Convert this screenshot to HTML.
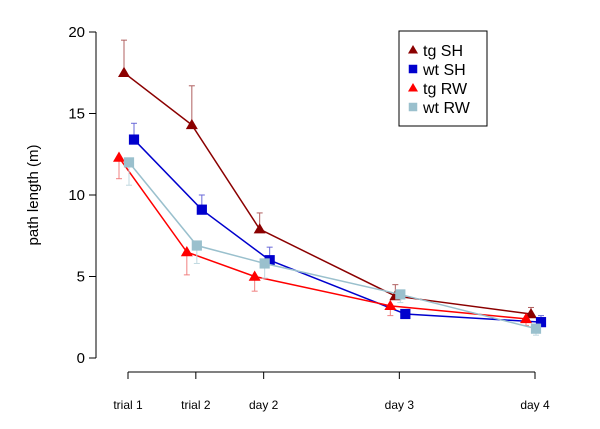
<!DOCTYPE html>
<html><head><meta charset="utf-8"><style>
body{margin:0;background:#fff}
svg{display:block;font-family:"Liberation Sans",Arial,sans-serif}
</style></head><body>
<svg id="chart" width="600" height="429">
<g id="axes"></g><g id="series"></g>
<g>
<rect x="399" y="31" width="88" height="95" fill="#fff" stroke="#000" stroke-width="1"/>
<g id="legend"></g>
</g>
</svg>
<script>
const categories=["trial 1","trial 2","day 2","day 3","day 4"];
const catPos=[0,1,2,4,6];
const yTicks=[0,5,10,15,20];
const seriesNames=["tg SH","wt SH","tg RW","wt RW"];
const tgSH=[17.5,14.3,7.9,3.8,2.7];
const wtSH=[13.4,9.1,6.0,2.7,2.2];
const tgRW=[12.3,6.5,5.0,3.2,2.4];
const wtRW=[12.0,6.9,5.8,3.9,1.8];
const tgSHerr=[2.0,2.4,1.0,0.7,0.4];
const wtSHerr=[1.0,0.9,0.8,0.2,0.4];
const tgRWerr=[1.3,1.4,0.9,0.6,0.4];
const wtRWerr=[1.4,1.1,0.9,0.5,0.4];
const NS="http://www.w3.org/2000/svg";
const xS=p=>128+p*(535-128)/6;
const yS=v=>358-v*(358-32)/20;
function el(t,a,parent){const e=document.createElementNS(NS,t);for(const k in a)e.setAttribute(k,a[k]);parent.appendChild(e);return e;}
const ax=document.getElementById('axes');
let e=el('line',{x1:96,x2:96,y1:yS(0),y2:yS(20),stroke:'#000'},ax);


yTicks.forEach(t=>{el('line',{x1:89,x2:96,y1:yS(t),y2:yS(t),stroke:'#000'},ax);
 const tx=el('text',{x:85,y:yS(t)+5,'text-anchor':'end','font-size':15},ax);tx.textContent=t;
 
 });
e=el('text',{x:38,y:195,'text-anchor':'middle','font-size':15,transform:'rotate(-90 38 195)'},ax);e.textContent='path length (m)';


e=el('line',{x1:xS(0),x2:xS(6),y1:372,y2:372,stroke:'#000'},ax);


categories.forEach((c,i)=>{const x=xS(catPos[i]);el('line',{x1:x,x2:x,y1:372,y2:379,stroke:'#000'},ax);
 const tx=el('text',{x:x,y:409,'text-anchor':'middle','font-size':12},ax);tx.textContent=c;
 
 });
const sg=document.getElementById('series');
const defs=[
 {d:tgSH,err:tgSHerr,c:'#8b0000',ec:'#b06060',off:-4,shape:'tri',up:true,name:'tg-sh'},
 {d:wtSH,err:wtSHerr,c:'#0000cd',ec:'#6a6ad8',off:6,shape:'sq',up:true,name:'wt-sh'},
 {d:tgRW,err:tgRWerr,c:'#ff0000',ec:'#f08080',off:-9,shape:'tri',up:false,name:'tg-rw'},
 {d:wtRW,err:wtRWerr,c:'#9ac0cd',ec:'#c0d8e0',off:1,shape:'sq',up:false,name:'wt-rw'}];
function marker(shape,x,y,c,parent,r){
 r=r||6;
 if(shape==='tri')return el('polygon',{points:`${x},${y-r} ${x-r},${y+r*0.7} ${x+r},${y+r*0.7}`,fill:c},parent);
 const h=r*0.85;
 return el('rect',{x:x-h,y:y-h,width:2*h,height:2*h,fill:c},parent);}
defs.forEach(s=>{
 const g=el('g',{},sg);
 
 
 s.d.forEach((v,i)=>{const x=xS(catPos[i])+s.off;const ye=yS(s.up?v+s.err[i]:v-s.err[i]);
  el('line',{x1:x,x2:x,y1:yS(v),y2:ye,stroke:s.ec},g);el('line',{x1:x-3,x2:x+3,y1:ye,y2:ye,stroke:s.ec},g);});
 el('polyline',{points:s.d.map((v,i)=>(xS(catPos[i])+s.off)+','+yS(v)).join(' '),fill:'none',stroke:s.c,'stroke-width':1.5},g);
 s.d.forEach((v,i)=>{const m=marker(s.shape,xS(catPos[i])+s.off,yS(v),s.c,g);
  
  });
});
const lg=document.getElementById('legend');
defs.forEach((s,i)=>{const y=50+i*19;marker(s.shape,413,y,s.c,lg,5);
 const tx=el('text',{x:423,y:y+6,'font-size':16},lg);tx.textContent=seriesNames[i];
 
 });
</script>
</body></html>
